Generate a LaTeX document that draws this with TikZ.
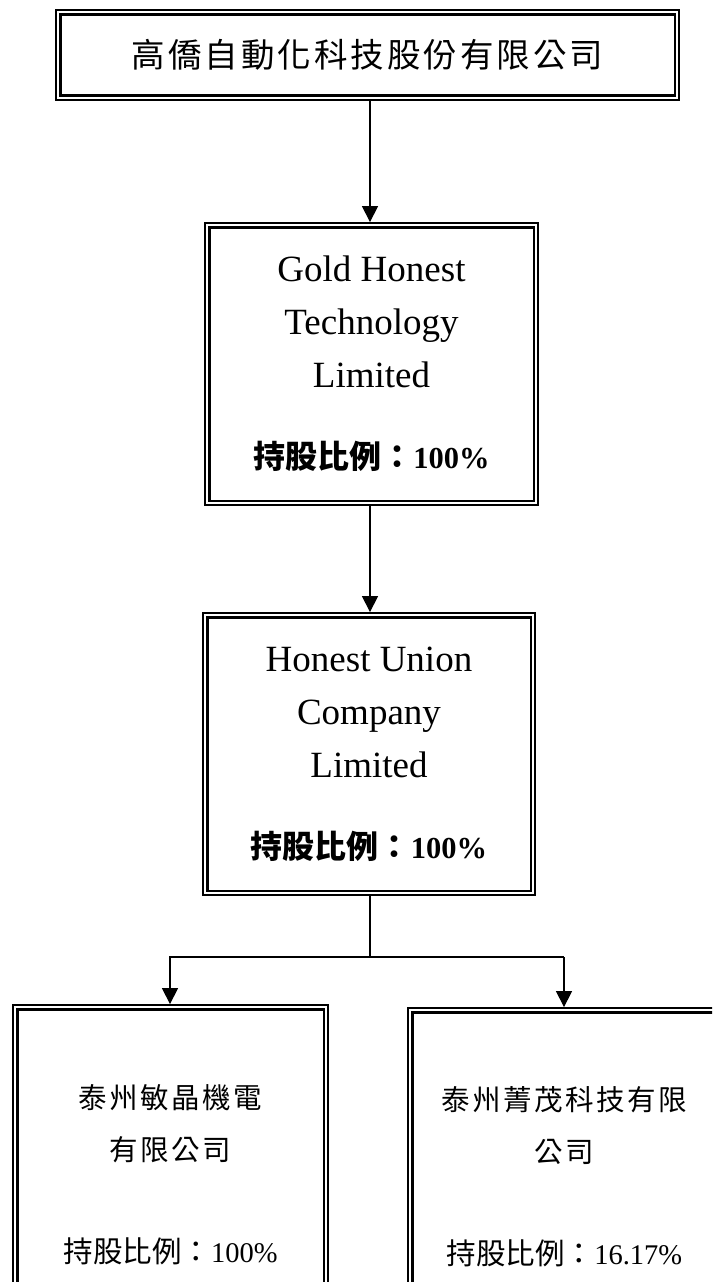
\documentclass[tikz,border=0pt]{standalone}
\usepackage{fontspec}
\setmainfont{Liberation Serif}
\newfontfamily\cjk{Noto Sans CJK TC}
\usetikzlibrary{arrows.meta}
\newcommand\gp{\hspace{3pt}}
\newcommand\gq{\hspace{2.5pt}}
\begin{document}
\begin{tikzpicture}[x=1pt,y=-1pt,
  dbox/.style={draw, line width=1.8pt, inner sep=0pt, align=center,
    path picture={\draw[line width=2.6pt]
      ([shift={(4.2pt,-4.2pt)}]path picture bounding box.north west) rectangle
      ([shift={(-4.2pt,4.2pt)}]path picture bounding box.south east);}},
  conn/.style={line width=1.2pt},
  arr/.style={conn, -{Triangle[width=16pt,length=16pt]}},
  entxt/.style={font=\fontsize{37}{53}\selectfont},
  cntxt/.style={font=\cjk\fontsize{28.5}{52}\selectfont},
]
\useasboundingbox (0,0) rectangle (712,1282);
\clip (0,0) rectangle (712,1282);

\node[dbox, minimum width=623pt, minimum height=89.5pt] (top) at (367.5,55)
  {\cjk\fontsize{33.5}{38}\selectfont 高\gp{}僑\gp{}自\gp{}動\gp{}化\gp{}科\gp{}技\gp{}股\gp{}份\gp{}有\gp{}限\gp{}公\gp{}司};

\node[dbox, entxt, minimum width=333pt, minimum height=282pt] (gold) at (371.5,364)
  {Gold Honest\\Technology\\Limited\\[28pt]{\cjk\bfseries\fontsize{32}{32}\selectfont 持股比例：}{\bfseries\fontsize{30.5}{30}\selectfont 100\%}};

\node[dbox, entxt, minimum width=332pt, minimum height=282pt] (honest) at (369,754)
  {Honest Union\\Company\\Limited\\[28pt]{\cjk\bfseries\fontsize{32}{32}\selectfont 持股比例：}{\bfseries\fontsize{30.5}{30}\selectfont 100\%}};

\node[dbox, cntxt, minimum width=315pt, minimum height=340pt] (left) at (170.5,1175)
  {泰\gq{}州\gq{}敏\gq{}晶\gq{}機\gq{}電\\有\gq{}限\gq{}公\gq{}司\\[50pt]{\fontsize{29.5}{52}\selectfont 持股比例：}{\rmfamily\fontsize{28.5}{52}\selectfont 100\%}};

\node[dbox, cntxt, minimum width=313pt, minimum height=337pt] (right) at (564.5,1176.5)
  {泰\gq{}州\gq{}菁\gq{}茂\gq{}科\gq{}技\gq{}有\gq{}限\\公\gq{}司\\[50pt]{\fontsize{29.5}{52}\selectfont 持股比例：}{\rmfamily\fontsize{28.5}{52}\selectfont 16.17\%}};

\coordinate (a) at (370,0);
\coordinate (j) at (370,957);
\coordinate (jl) at (170,957);
\coordinate (jr) at (564,957);

\draw[arr] (top.south -| a) -- (gold.north -| a);
\draw[arr] (gold.south -| a) -- (honest.north -| a);
\draw[conn] (honest.south -| j) -- (j);
\draw[arr] (jr) -- (jl) -- (left.north -| jl);
\draw[arr] (jr) -- (right.north -| jr);
\end{tikzpicture}
\end{document}
